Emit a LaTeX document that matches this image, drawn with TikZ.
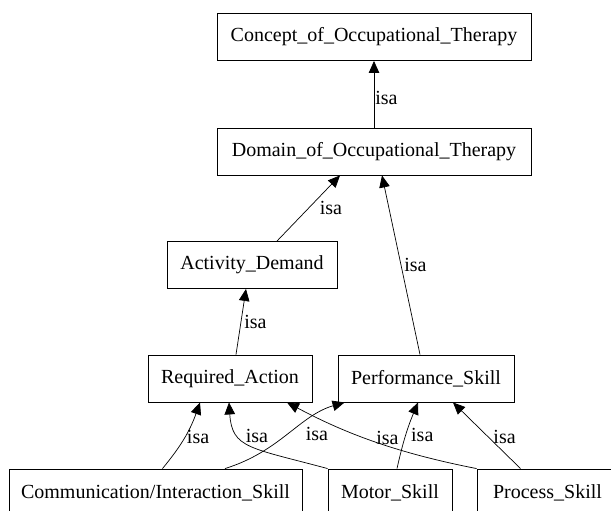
\documentclass[tikz,border=0pt]{standalone}
\usepackage{fontspec}
\setmainfont{Liberation Serif}
\usetikzlibrary{arrows.meta}

\begin{document}
\begin{tikzpicture}[x=1pt, y=-1pt,
                box/.style={draw, line width=0.9pt, minimum height=47pt, inner sep=0pt, font=\fontsize{20}{24}\selectfont},
                isa/.style={-{Triangle[length=12pt, width=10.5pt]}, line width=0.7pt},
                lbl/.style={font=\fontsize{20}{24}\selectfont, inner sep=1pt, anchor=west}]
                \fill[white] (0,0) rectangle (611,511);
                \useasboundingbox (0,0) rectangle (611,511);
                \clip (0,0) rectangle (611,511);

                \node[box, minimum width=314pt] (COT) at (374,37) {Concept\_of\_Occupational\_Therapy};
                \node[box, minimum width=314pt] (DOT) at (374,151.5) {Domain\_of\_Occupational\_Therapy};
                \node[box, minimum width=170pt] (AD) at (252,265) {Activity\_Demand};
                \node[box, minimum width=164pt] (RA) at (230,378.5) {Required\_Action};
                \node[box, minimum width=176pt] (PS) at (426,378.5) {Performance\_Skill};
                \node[box, minimum width=293pt] (CIS) at (155.5,492.5) {Communication/Interaction\_Skill};
                \node[box, minimum width=124pt] (MS) at (390,492.5) {Motor\_Skill};
                \node[box, minimum width=141pt] (PrS) at (547.5,492.5) {Process\_Skill};

                \draw[isa] (DOT) -- (COT) node[lbl, pos=0.45]{isa};
                \draw[isa] ([xshift=25pt]AD.north) -- ([xshift=-34pt]DOT.south) node[lbl, pos=0.5, xshift=10pt]{isa};
                \draw[isa] ([xshift=-6pt]PS.north) -- ([xshift=8pt]DOT.south) node[lbl, pos=0.5, xshift=2pt]{isa};
                \draw[isa] ([xshift=6pt]RA.north) -- ([xshift=-6pt]AD.south) node[lbl, pos=0.5, xshift=2pt]{isa};
                \draw[isa] ([xshift=7pt]CIS.north) to[bend right=10] node[lbl, pos=0.5, xshift=1pt]{isa} ([xshift=-30pt]RA.south);
                \draw[isa] ([xshift=69.5pt]CIS.north) .. controls +(55,-17) and +(-45,13) .. ([xshift=7pt]PS.south west) node[lbl, pos=0.5, xshift=16pt]{isa};
                \draw[isa] (MS.north west) .. controls +(-78,-21) and +(3,46) .. ([xshift=-1pt]RA.south) node[lbl, pos=0.65, xshift=5pt]{isa};
                \draw[isa] ([xshift=7pt]MS.north) to[bend left=5] node[lbl, pos=0.5, xshift=4pt]{isa} ([xshift=-8pt]PS.south);
                \draw[isa] (PrS.north west) .. controls +(-87,-17) and +(53,28) .. ([xshift=57pt]RA.south) node[lbl, pos=0.4, anchor=south]{isa};
                \draw[isa] ([xshift=-27pt]PrS.north) -- ([xshift=27pt]PS.south) node[lbl, pos=0.48, xshift=4pt]{isa};
            \end{tikzpicture}
\end{document}
